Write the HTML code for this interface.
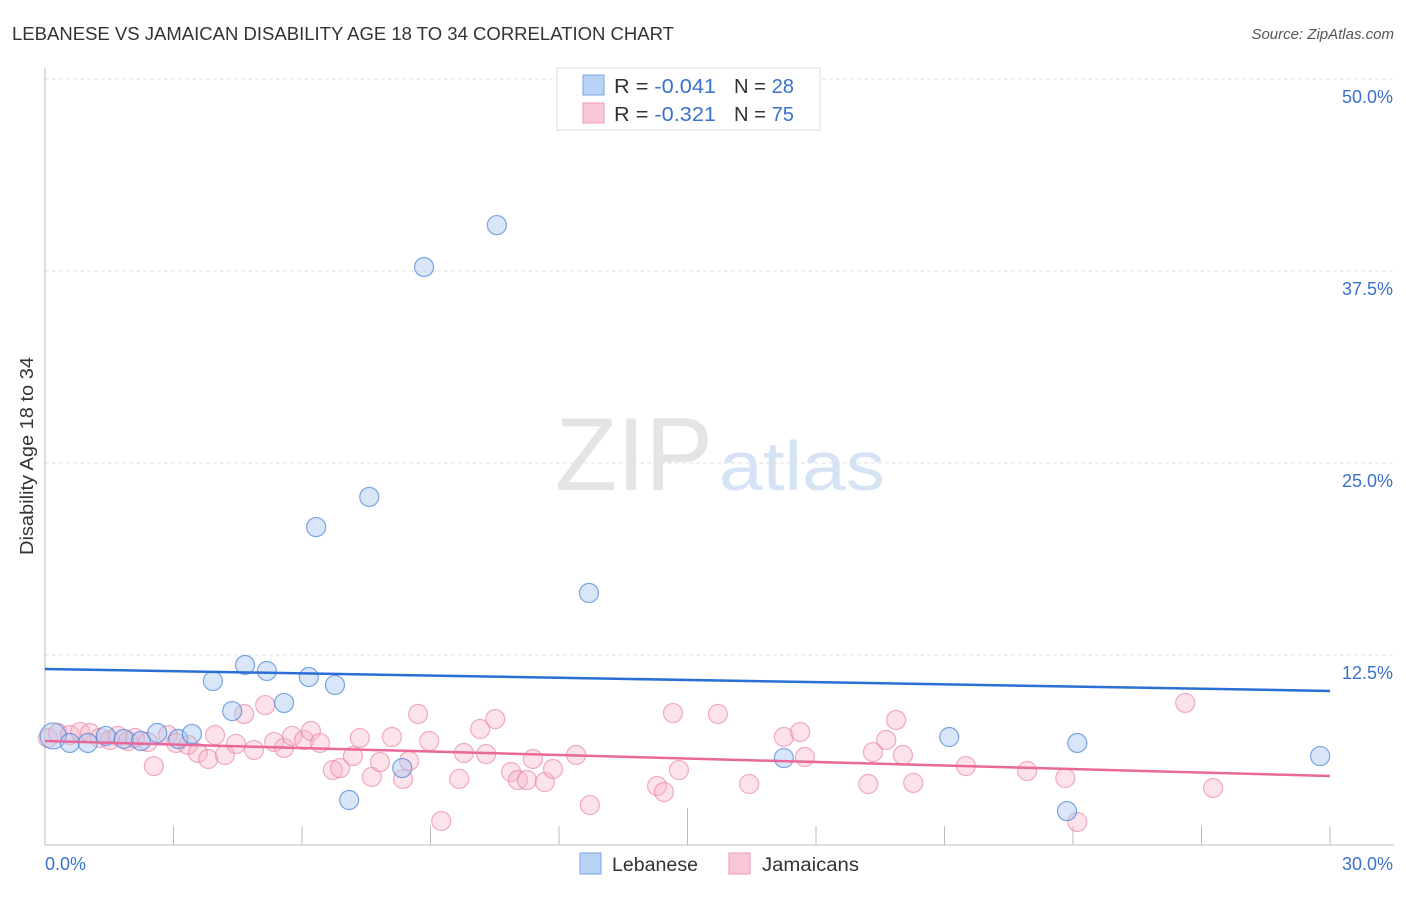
<!DOCTYPE html>
<html><head><meta charset="utf-8"><style>
body{margin:0;background:#fff;}
svg text{font-family:"Liberation Sans",sans-serif;}
</style></head><body>
<svg id="chart" width="1406" height="892" viewBox="0 0 1406 892" xmlns="http://www.w3.org/2000/svg">
<text x="12" y="40" font-size="18" fill="#333" textLength="662" lengthAdjust="spacingAndGlyphs">LEBANESE VS JAMAICAN DISABILITY AGE 18 TO 34 CORRELATION CHART</text>
<text x="1394" y="39" font-size="15" fill="#555" font-style="italic" text-anchor="end">Source: ZipAtlas.com</text>
<g>
<text x="634" y="490" font-size="104" fill="#e4e4e4" font-family="Liberation Serif" text-anchor="middle" textLength="158" lengthAdjust="spacingAndGlyphs">ZIP</text>
<text x="802" y="490" font-size="70" fill="#d6e3f5" text-anchor="middle" textLength="166" lengthAdjust="spacingAndGlyphs">atlas</text>
</g>
<g id="grid"></g>
<g id="axes"></g>
<g id="marks"></g>
<text transform="translate(33,456) rotate(-90)" font-size="18" fill="#333" text-anchor="middle" textLength="198" lengthAdjust="spacingAndGlyphs">Disability Age 18 to 34</text>
<g>
<rect x="557" y="68" width="263" height="62" fill="#fff" stroke="#ddd"/>
<rect x="583" y="75" width="21" height="20" fill="#b8d2f5" stroke="#7aa6e6"/>
<text x="614" y="93" font-size="20" fill="#333" textLength="102" lengthAdjust="spacingAndGlyphs">R = <tspan fill="#3a72cc">-0.041</tspan></text>
<text x="734" y="93" font-size="20" fill="#333" textLength="60" lengthAdjust="spacingAndGlyphs">N = <tspan fill="#3a72cc">28</tspan></text>
<rect x="583" y="103" width="21" height="20" fill="#f9c8d6" stroke="#ee98b2"/>
<text x="614" y="121" font-size="20" fill="#333" textLength="102" lengthAdjust="spacingAndGlyphs">R = <tspan fill="#3a72cc"> -0.321</tspan></text>
<text x="734" y="121" font-size="20" fill="#333" textLength="60" lengthAdjust="spacingAndGlyphs">N = <tspan fill="#3a72cc">75</tspan></text>
</g>
<g>
<rect x="580" y="853" width="21" height="21" fill="#b8d2f5" stroke="#7aa6e6"/>
<text x="612" y="871" font-size="19" fill="#333" textLength="86" lengthAdjust="spacingAndGlyphs">Lebanese</text>
<rect x="729" y="853" width="21" height="21" fill="#f9c8d6" stroke="#ee98b2"/>
<text x="762" y="871" font-size="19" fill="#333" textLength="97" lengthAdjust="spacingAndGlyphs">Jamaicans</text>
</g>
</svg>
<script>
const yTicks=[12.5,25,37.5,50];
const yTickLabels=["12.5%","25.0%","37.5%","50.0%"];
const xTickLabels=["0.0%","30.0%"];
const lebX=[0.19,0.58,1.00,1.42,1.84,2.24,2.62,3.11,3.43,3.92,4.37,4.67,5.18,5.58,6.16,6.33,6.77,7.10,7.57,8.34,8.85,10.55,12.70,17.25,21.11,23.86,24.10,29.77];
const lebY=[7.23,6.77,6.77,7.23,7.03,6.90,7.42,7.03,7.36,10.81,8.85,11.85,11.46,9.38,11.07,20.83,10.55,3.06,22.79,5.14,37.76,40.49,16.54,5.79,7.16,2.34,6.77,5.92];
const jamX=[0.07,0.30,0.58,0.82,1.05,1.28,1.52,1.70,1.94,2.10,2.40,2.54,2.87,3.06,3.34,3.57,3.81,3.97,4.20,4.46,4.65,4.88,5.14,5.35,5.58,5.77,6.05,6.21,6.42,6.72,6.89,7.19,7.35,7.63,7.82,8.10,8.36,8.50,8.71,8.97,9.25,9.67,9.78,10.16,10.30,10.51,10.88,11.04,11.25,11.39,11.67,11.86,12.40,12.72,14.29,14.45,14.66,14.80,15.71,16.44,17.25,17.63,17.74,19.22,19.33,19.64,19.87,20.03,20.27,21.50,22.93,23.82,24.10,26.62,27.27];
const jamY=[7.10,7.42,7.29,7.49,7.42,7.10,6.97,7.23,6.90,7.10,6.84,5.27,7.29,6.77,6.64,6.12,5.73,7.29,5.99,6.71,8.66,6.32,9.24,6.84,6.45,7.23,6.97,7.55,6.77,5.01,5.14,5.92,7.10,4.56,5.53,7.16,4.43,5.60,8.66,6.90,1.69,4.43,6.12,7.68,6.05,8.33,4.88,4.36,4.36,5.73,4.23,5.08,5.99,2.73,3.97,3.58,8.72,5.01,8.66,4.10,7.16,7.49,5.86,4.10,6.18,6.97,8.27,5.99,4.17,5.27,4.95,4.49,1.63,9.38,3.84];
const lebTrend=[11.59,10.16];
const jamTrend=[6.90,4.62];

const NS="http://www.w3.org/2000/svg";
const X0=45,X1=1330,Y0=847,YPX=768/50;
const xs=v=>X0+(v/30)*(X1-X0);
const ys=v=>Y0-v*YPX;
function mk(tag,attrs,parent){const e=document.createElementNS(NS,tag);for(const k in attrs)e.setAttribute(k,attrs[k]);parent.appendChild(e);return e;}
const grid=document.getElementById('grid'),axes=document.getElementById('axes'),marks=document.getElementById('marks');
yTicks.forEach((t,i)=>{
  const l=mk('line',{x1:X0,x2:1394,y1:ys(t),y2:ys(t),stroke:'#e2e2e2','stroke-dasharray':'4,3'},grid);
  
  
  const tx=mk('text',{x:1393,y:ys(t)+24,'font-size':18,fill:'#3a72cc','text-anchor':'end'},grid);
  tx.textContent=yTickLabels[i];
  
  
});
const ya=mk('line',{x1:X0,x2:X0,y1:68,y2:845,stroke:'#bbb'},axes);


const xa=mk('line',{x1:X0,x2:X1+64,y1:845,y2:845,stroke:'#bbb'},axes);


for(let i=0;i<=10;i++){
  const v=i*3;
  const t=mk('line',{x1:xs(v),x2:xs(v),y1:i===5?808:826,y2:845,stroke:'#bbb'},axes);
  
  
}
[[0,'start',45],[30,'end',1393]].forEach((d,i)=>{
  const tx=mk('text',{x:d[2],y:870,'font-size':18,fill:'#3a72cc','text-anchor':d[1]},axes);
  tx.textContent=xTickLabels[i];
  
  
});
jamX.forEach((x,i)=>{
  const c=mk('circle',{cx:xs(x),cy:ys(jamY[i]),r:9.5,fill:'rgba(247,182,203,0.4)',stroke:'rgba(232,130,162,0.65)','stroke-width':1.2},marks);
  
  
});
lebX.forEach((x,i)=>{
  const c=mk('circle',{cx:xs(x),cy:ys(lebY[i]),r:i===0?13:9.5,fill:'rgba(170,200,240,0.45)',stroke:'rgba(70,130,215,0.7)','stroke-width':1.2},marks);
  
  
});
const lt=mk('line',{x1:xs(0),x2:xs(30),y1:ys(lebTrend[0]),y2:ys(lebTrend[1]),stroke:'#2b6fd6','stroke-width':2.5},marks);


const jt=mk('line',{x1:xs(0),x2:xs(30),y1:ys(jamTrend[0]),y2:ys(jamTrend[1]),stroke:'#e8689a','stroke-width':2.5},marks);


</script>
</body></html>
